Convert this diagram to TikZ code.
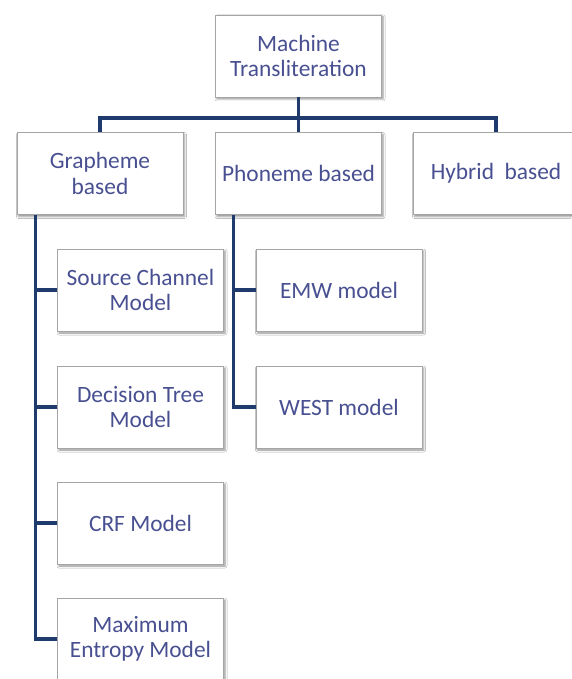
\documentclass[tikz,border=0pt]{standalone}
\usepackage{fontspec}
\setmainfont{Carlito}
\usetikzlibrary{shadows.blur}
\definecolor{txt}{RGB}{72,80,145}
\definecolor{bar}{RGB}{31,58,108}
\definecolor{edge}{RGB}{165,165,165}
\begin{document}
\begin{tikzpicture}[x=1pt,y=-1pt,
  box/.style={draw=edge, line width=0.8pt, fill=white, minimum width=166pt, minimum height=82pt,
    inner sep=2pt, align=center, text=txt, font=\fontsize{23.4}{25.5}\selectfont,
    blur shadow={shadow xshift=1.5pt, shadow yshift=-2pt, shadow blur radius=2pt, shadow opacity=45}},
  conn/.style={draw=bar, line width=3.2pt}]
\fill[white] (0,0) rectangle (571,679);
\useasboundingbox (0,0) rectangle (571,679);
\node[box] (mt) at (298.5,56) {Machine\\Transliteration};
\node[box] (gb) at (100,173.5) {Grapheme\\based};
\node[box] (pb) at (298.5,173.5) {Phoneme based};
\node[box] (hb) at (496,173.5) {Hybrid~ based};
\node[box] (sc) at (140.5,290) {Source Channel\\Model};
\node[box] (dt) at (140.5,407) {Decision Tree\\Model};
\node[box] (crf) at (140.5,523) {CRF Model};
\node[box] (me) at (140.5,639) {Maximum\\Entropy Model};
\node[box] (emw) at (339,290) {EMW model};
\node[box] (west) at (339,407) {WEST model};
\coordinate (bus) at (298.5,118);
\coordinate (gs) at ([xshift=19pt]gb.south west);
\coordinate (ps) at ([xshift=18pt]pb.south west);
\draw[conn] (mt.south) -- (pb.north);
\draw[conn] (gb.north) |- (bus) -| (hb.north);
\draw[conn] (gs) |- (me.west);
\foreach \n in {sc,dt,crf} \draw[conn] (\n.west) -- (\n.west -| gs);
\draw[conn] (ps) |- (west.west);
\draw[conn] (emw.west) -- (emw.west -| ps);
\end{tikzpicture}
\end{document}
